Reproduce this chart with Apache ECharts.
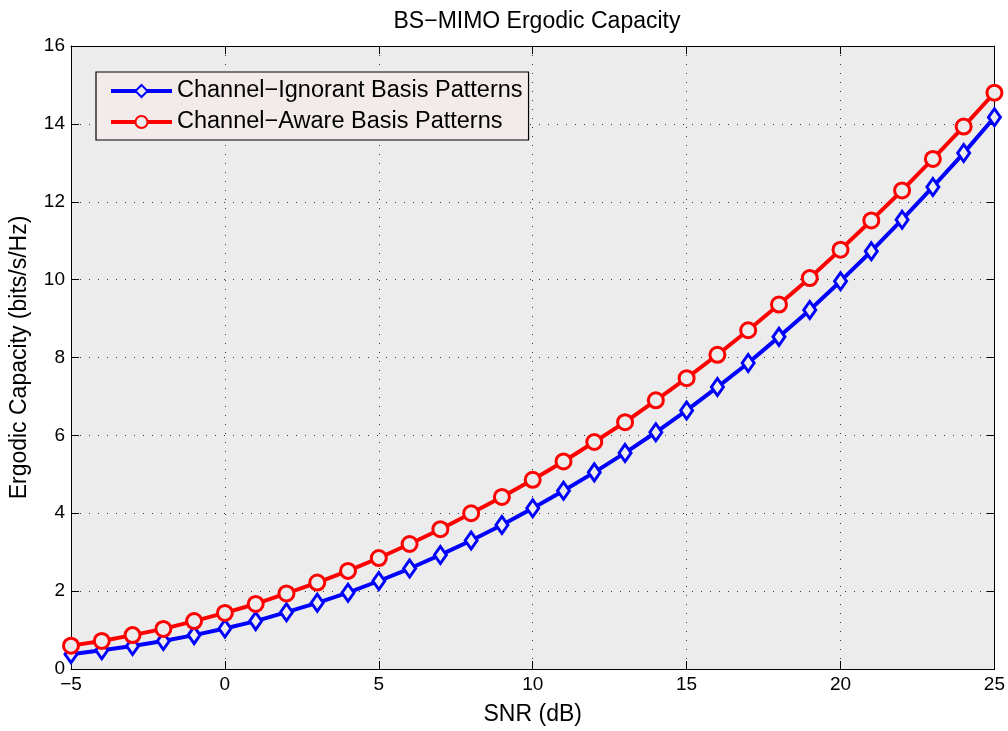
<!DOCTYPE html>
<html lang="en">
  <head>
    <meta charset="UTF-8" />
    <title>BS-MIMO Ergodic Capacity</title>
    <style>
      html, body { margin: 0; padding: 0; background: #fff; }
      #main { width: 1008px; height: 731px; }
    </style>
  </head>
  <body>
    <script src="https://cdn.jsdelivr.net/npm/echarts@6/dist/echarts.min.js"></script>
    <div id="main"></div>
    <script>
      const snr = [-5, -4, -3, -2, -1, 0, 1, 2, 3, 4, 5, 6, 7, 8, 9, 10, 11, 12, 13, 14, 15, 16, 17, 18, 19, 20, 21, 22, 23, 24, 25]
      const ignorant = [0.38, 0.48, 0.59, 0.72, 0.87, 1.04, 1.23, 1.46, 1.7, 1.96, 2.26, 2.58, 2.93, 3.3, 3.7, 4.13, 4.58, 5.05, 5.55, 6.08, 6.64, 7.24, 7.86, 8.53, 9.22, 9.96, 10.73, 11.54, 12.38, 13.25, 14.17]
      const aware = [0.6, 0.72, 0.87, 1.03, 1.23, 1.44, 1.67, 1.94, 2.22, 2.52, 2.85, 3.21, 3.59, 4.0, 4.42, 4.86, 5.33, 5.83, 6.34, 6.9, 7.47, 8.07, 8.7, 9.36, 10.04, 10.77, 11.52, 12.29, 13.1, 13.93, 14.8]
      const names = ['Channel\u2212Ignorant Basis Patterns', 'Channel\u2212Aware Basis Patterns']

      const font = 'Liberation Sans, Arial, sans-serif'
      const plotBg = '#ececec'
      const minus = v => String(v).replace('-', '\u2212')
      const pairs = ys => snr.map((x, i) => [x, ys[i]])

      const gridLine = { show: true, lineStyle: { color: '#333', type: [1, 8], width: 1 } }
      const axisBase = {
        axisLine: { show: true, onZero: false, lineStyle: { color: '#000', width: 1 } },
        axisTick: { show: true, inside: true, length: 8, lineStyle: { color: '#000' } },
        axisLabel: { color: '#000', fontSize: 19, fontFamily: font, margin: 6, formatter: minus },
        nameTextStyle: { color: '#000', fontSize: 23, fontFamily: font }
      }

      const chart = echarts.init(document.getElementById('main'))
      chart.setOption({
        backgroundColor: '#fff',
        title: {
          text: 'BS\u2212MIMO Ergodic Capacity',
          left: 532, top: 5, textAlign: 'center',
          textStyle: { color: '#000', fontSize: 23, fontWeight: 'normal', fontFamily: font }
        },
        grid: { left: 69, right: 12, top: 46, bottom: 59, show: true, backgroundColor: plotBg, borderWidth: 0 },
        legend: {
          left: 96, top: 72, orient: 'vertical',
          backgroundColor: '#f3eaea', borderColor: '#000', borderWidth: 1.2, borderRadius: 0,
          padding: [7, 6, 6, 13], itemGap: 7, itemWidth: 61, itemHeight: 15,
          lineStyle: { width: 4 },
          textStyle: { color: '#000', fontSize: 23.5, lineHeight: 24, fontFamily: font },
          data: names
        },
        xAxis: [
          Object.assign({}, axisBase, {
            type: 'value', min: -5, max: 25, interval: 5,
            name: 'SNR (dB)', nameLocation: 'middle', nameGap: 34,
            splitLine: gridLine
          }),
          { type: 'value', position: 'top', min: -5, max: 25, interval: 5,
            axisLine: axisBase.axisLine, axisTick: axisBase.axisTick,
            axisLabel: { show: false }, splitLine: { show: false } }
        ],
        yAxis: [
          Object.assign({}, axisBase, {
            type: 'value', min: 0, max: 16, interval: 2,
            name: 'Ergodic Capacity (bits/s/Hz)', nameLocation: 'middle', nameGap: 40,
            splitLine: gridLine
          }),
          { type: 'value', position: 'right', min: 0, max: 16, interval: 2,
            axisLine: axisBase.axisLine, axisTick: axisBase.axisTick,
            axisLabel: { show: false }, splitLine: { show: false } }
        ],
        series: [
          {
            name: names[0], type: 'line', data: pairs(ignorant),
            symbol: 'path://M0,-10L6.5,0L0,10L-6.5,0Z', symbolSize: [12, 17],
            lineStyle: { color: '#0000ff', width: 4 },
            itemStyle: { color: plotBg, borderColor: '#0000ff', borderWidth: 3 },
            z: 3
          },
          {
            name: names[1], type: 'line', data: pairs(aware),
            symbol: 'circle', symbolSize: 15,
            lineStyle: { color: '#ff0000', width: 4 },
            itemStyle: { color: plotBg, borderColor: '#ff0000', borderWidth: 3 },
            z: 4
          }
        ]
      })
    </script>
  </body>
</html>
